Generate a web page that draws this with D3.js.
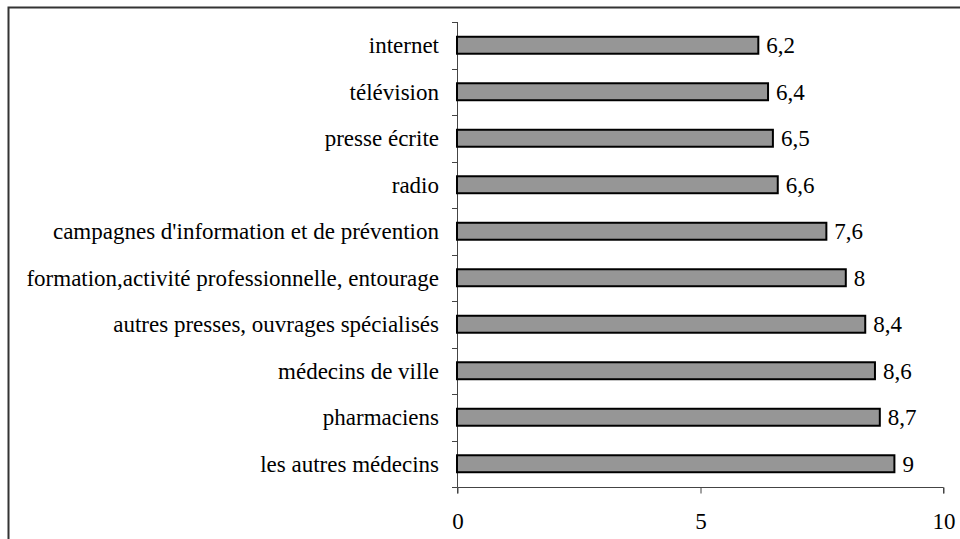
<!DOCTYPE html>
<html>
<head>
<meta charset="utf-8">
<script src="https://cdn.jsdelivr.net/npm/d3@7"></script>
<style>
  body { margin: 0; background: #fff; }
  svg text { font-family: "Liberation Serif", "Times New Roman", serif; }
</style>
</head>
<body>
<div id="container"></div>
<script>
const categories = [
  'internet',
  'télévision',
  'presse écrite',
  'radio',
  "campagnes d'information et de prévention",
  'formation,activité professionnelle, entourage',
  'autres presses, ouvrages spécialisés',
  'médecins de ville',
  'pharmaciens',
  'les autres médecins'
];
const values = [6.2, 6.4, 6.5, 6.6, 7.6, 8, 8.4, 8.6, 8.7, 9];
const xTicks = [0, 5, 10];

const width = 960, height = 539;
const margin = { top: 22, right: 17, bottom: 52, left: 457 };
const fontSize = 23;

let svg = d3.select('#container').append('svg')
  .attr('width', width)
  .attr('height', height);

// outer frame (right and bottom edges run off the picture)
svg.append('rect')
  .attr('x', 8.5)
  .attr('y', 7.5)
  .attr('width', 960)
  .attr('height', 545)
  .attr('fill', 'none')
  .attr('stroke', '#333')
  .attr('stroke-width', 2);

let x = d3.scaleLinear()
  .domain([0, 10])
  .range([margin.left, width - margin.right]);

let y = d3.scaleBand()
  .domain(categories)
  .range([margin.top, height - margin.bottom])
  .paddingInner(0.635)
  .paddingOuter(0.3175);

let fmt = (v) => String(v).replace('.', ',');

// y axis: line + ticks at category boundaries
let yLeft = x(0);
svg.append('line')
  .attr('x1', yLeft + 0.5).attr('x2', yLeft + 0.5)
  .attr('y1', margin.top).attr('y2', height - margin.bottom)
  .attr('stroke', '#444');

let step = (height - margin.bottom - margin.top) / categories.length;
svg.append('g')
  .selectAll('line')
  .data(d3.range(categories.length + 1))
  .enter()
  .append('line')
  .attr('x1', yLeft - 5).attr('x2', yLeft + 0.5)
  .attr('y1', (i) => Math.round(margin.top + i * step) + 0.5)
  .attr('y2', (i) => Math.round(margin.top + i * step) + 0.5)
  .attr('stroke', '#444');

// category labels
svg.append('g')
  .selectAll('text')
  .data(categories)
  .enter()
  .append('text')
  .attr('x', yLeft - 18)
  .attr('y', (d) => y(d) + y.bandwidth() / 2)
  .attr('dy', '0.35em')
  .attr('text-anchor', 'end')
  .attr('font-size', fontSize)
  .attr('fill', '#000')
  .text((d) => d);

// x axis
let xAxis = svg.append('g')
  .attr('transform', `translate(0.5,${height - margin.bottom + 0.5})`)
  .call(d3.axisBottom(x).tickValues(xTicks).tickSize(6).tickPadding(19).tickFormat(fmt));
xAxis.select('.domain').attr('stroke', '#444').attr('d', `M${x(0)},6V0H${x(10)}V6`);
xAxis.selectAll('.tick line').attr('stroke', '#444');
xAxis.selectAll('.tick text')
  .attr('font-size', fontSize)
  .attr('fill', '#000');

// bars
svg.append('g')
  .selectAll('rect')
  .data(values)
  .enter()
  .append('rect')
  .attr('x', x(0))
  .attr('y', (d, i) => y(categories[i]))
  .attr('width', (d) => x(d) - x(0))
  .attr('height', y.bandwidth())
  .attr('fill', '#969696')
  .attr('stroke', '#000')
  .attr('stroke-width', 2);

// value labels
svg.append('g')
  .selectAll('text')
  .data(values)
  .enter()
  .append('text')
  .attr('x', (d) => x(d) + 8)
  .attr('y', (d, i) => y(categories[i]) + y.bandwidth() / 2)
  .attr('dy', '0.35em')
  .attr('font-size', fontSize)
  .attr('fill', '#000')
  .text(fmt);
</script>
</body>
</html>
